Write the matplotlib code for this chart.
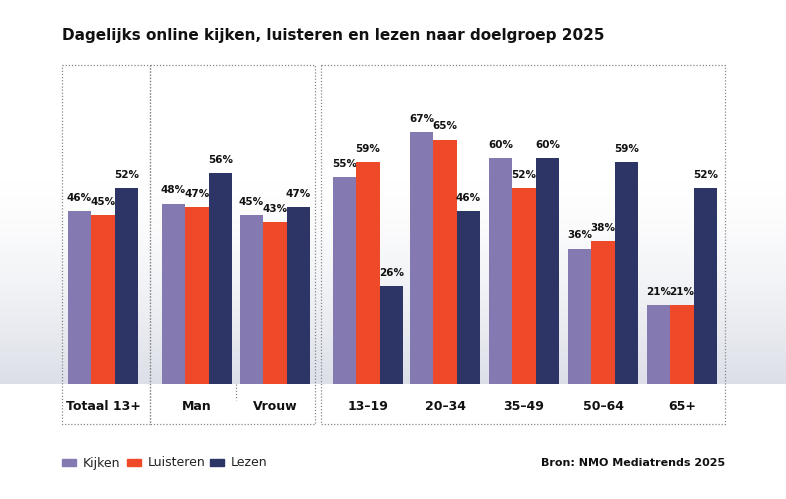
import matplotlib.pyplot as plt
import numpy as np

groups = ["Totaal 13+", "Man", "Vrouw", "13–19", "20–34", "35–49", "50–64", "65+"]
kijken = [46, 48, 45, 55, 67, 60, 36, 21]
luisteren = [45, 47, 43, 59, 65, 52, 38, 21]
lezen = [52, 56, 47, 26, 46, 60, 59, 52]
series = ["Kijken", "Luisteren", "Lezen"]
colors = ["#8479b0", "#ee4a2a", "#2d3466"]

W, H = 786, 499
centers = [103, 197, 275, 368, 445, 524, 603, 682]
bw = 23.5
base_px = 384
px_per_pct = 3.76

fig = plt.figure(figsize=(W / 100, H / 100), dpi=100)
bg = fig.add_axes([0, 0, 1, 1])
bg.set_xlim(0, W)
bg.set_ylim(H, 0)
bg.axis("off")

# background gradient above baseline
grad = np.linspace(0, 1, 200)[:, None] ** 1.5
cmap = plt.matplotlib.colors.LinearSegmentedColormap.from_list("g", ["#ffffff", "#dcdfe8"])
bg.imshow(grad, extent=[0, W, base_px, 175], cmap=cmap, aspect="auto", zorder=0)

# dotted group boxes
for x0, x1 in [(62, 150), (150, 315), (321, 725)]:
    bg.plot([x0, x1, x1, x0, x0], [65, 65, 424, 424, 65], ls=(0, (1, 1.5)),
            color="#888888", lw=0.9, zorder=1)
bg.plot([236, 236], [base_px, 400], ls=(0, (1, 1.5)), color="#888888", lw=0.9)

bg.text(62, 35, "Dagelijks online kijken, luisteren en lezen naar doelgroep 2025",
        fontsize=11, fontweight="bold", va="center", ha="left", color="#111111")

ax = fig.add_axes([0, (H - base_px) / H, 1, 100 * px_per_pct / H])
ax.set_xlim(0, W)
ax.set_ylim(0, 100)
ax.axis("off")
ax.patch.set_alpha(0)

for i, (vals, c) in enumerate(zip([kijken, luisteren, lezen], colors)):
    xs = [cx + (i - 1) * bw for cx in centers]
    ax.bar(xs, vals, width=bw, color=c, zorder=3, label=series[i])
    for x, v in zip(xs, vals):
        ax.text(x, v + 2.2, f"{v}%", ha="center", va="bottom", fontsize=7.5,
                fontweight="bold", color="#111111")

for cx, g in zip(centers, groups):
    bg.text(cx, 406, g, ha="center", va="center", fontsize=9, fontweight="bold",
            color="#111111")

# legend
lx = 62
for s, c in zip(series, colors):
    bg.add_patch(plt.Rectangle((lx, 459), 14, 7, color=c))
    bg.text(lx + 21, 463, s, ha="left", va="center", fontsize=9, color="#222222")
    lx += {"Kijken": 65, "Luisteren": 83, "Lezen": 60}[s]

bg.text(725, 463, "Bron: NMO Mediatrends 2025", ha="right", va="center",
        fontsize=8, fontweight="bold", color="#111111")

fig.savefig("out.png", dpi=100)
